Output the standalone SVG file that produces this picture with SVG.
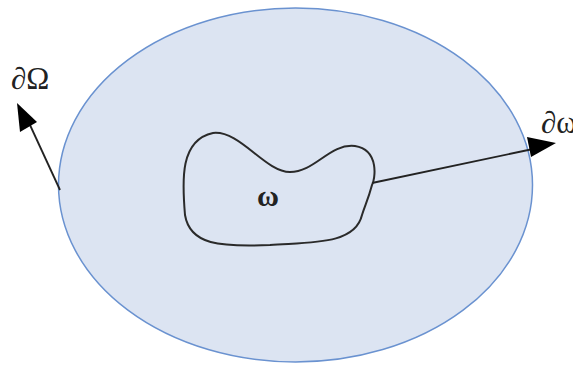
<svg xmlns="http://www.w3.org/2000/svg" width="573" height="365" viewBox="0 0 573 365">
<defs>
<style>
.lbl{font-family:"Liberation Serif","DejaVu Serif",serif;fill:#222;}
.conn{stroke:#222;stroke-width:1.8;fill:none;}
</style>
</defs>
<rect width="573" height="365" fill="#fff"/>
<g id="outer">
<ellipse cx="295.5" cy="185" rx="237" ry="177" fill="#dce4f2" stroke="#6a92d0" stroke-width="1.5"/>
</g>
<g id="inner">
<path d="M213,133 C240,130 265,172 290,172 C315,172 330,143 355,146 C380,150 375,180 372,185 C368,200 365,205 362,215 C355,245 310,242 270,245 C220,247 190,245 185,215 C182,180 180,140 213,133 Z" fill="none" stroke="#2a2a2a" stroke-width="2"/>
<text class="lbl" x="268" y="206" font-size="30" font-weight="bold" text-anchor="middle">ω</text>
</g>
<g id="connectors">
<line class="conn" x1="60" y1="190" x2="24" y2="112"/>
<path d="M17,103 L37,122 L20,132 Z" fill="#000"/>
<line class="conn" x1="372" y1="183" x2="533" y2="149"/>
<path d="M556,143 L527,137 L531,157 Z" fill="#000"/>
</g>
<g id="labels">
<text class="lbl" x="11" y="89" font-size="31">∂Ω</text>
<text class="lbl" x="541" y="133" font-size="31">∂ω</text>
</g>
</svg>
